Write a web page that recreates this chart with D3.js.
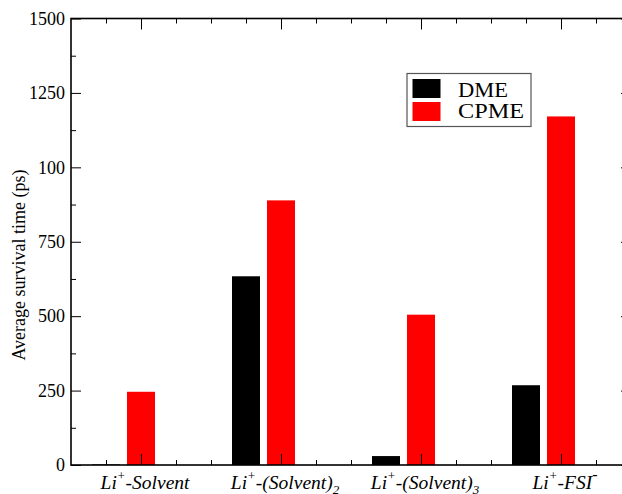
<!DOCTYPE html>
<html>
<head>
<meta charset="utf-8">
<script src="https://cdn.jsdelivr.net/npm/d3@7"></script>
<style>
  body { margin: 0; background: #fff; }
  svg text { font-family: "Liberation Serif", "Times New Roman", "DejaVu Serif", serif !important; fill: #000; }
  .axis path, .axis line { stroke: #000; }
  .axis text { font-size: 18px; }
</style>
</head>
<body>
<svg id="chart"></svg>
<script>
// values
var categories = ["Li+-Solvent", "Li+-(Solvent)2", "Li+-(Solvent)3", "Li+-FSI-"];
var dmeValues = [2, 634, 30, 268];
var cpmeValues = [246, 889, 505, 1171];
var seriesNames = ["DME", "CPME"];
var yTicks = [0, 250, 500, 750, 1000, 1250, 1500];
var yTickLabels = ["0", "250", "500", "750", "100", "1250", "1500"];
// label pieces: [base, sup, rest, sub, sup2]
var catLabels = [
    ["Li", "+", "-Solvent", "", ""],
    ["Li", "+", "-(Solvent)", "2", ""],
    ["Li", "+", "-(Solvent)", "3", ""],
    ["Li", "+", "-FSI", "", "-"]
];

var width = 622, height = 494;
var svg = d3.select("#chart").attr("width", width).attr("height", height);

var x = d3.scaleLinear().domain([0.5, 4.5]).range([71, 631]);
var y = d3.scaleLinear().domain([0, 1500]).range([465, 18.5]);

var colors = { DME: "#000", CPME: "#ff0000" };
var barW = x(0.7) - x(0.5);

var minorX = d3.range(0.75, 4.5, 0.25).filter(function(v) { return Math.abs(v - Math.round(v)) > 0.01; });
var minorY = d3.range(125, 1500, 250);

// bars
var rows = categories.map(function(c, i) {
    return { cat: i + 1, DME: dmeValues[i], CPME: cpmeValues[i] };
});

svg.append("g").selectAll("rect.dme")
    .data(rows)
    .enter().append("rect")
    .attr("x", function(d) { return x(d.cat - 0.25) - barW / 2; })
    .attr("y", function(d) { return y(d.DME); })
    .attr("width", barW)
    .attr("height", function(d) { return y(0) - y(d.DME); })
    .style("fill", colors.DME);

svg.append("g").selectAll("rect.cpme")
    .data(rows)
    .enter().append("rect")
    .attr("x", function(d) { return x(d.cat) - barW / 2; })
    .attr("y", function(d) { return y(d.CPME); })
    .attr("width", barW)
    .attr("height", function(d) { return y(0) - y(d.CPME); })
    .style("fill", colors.CPME);

// axes (ticks point inward on all four sides)
function clean(g) { g.select(".domain").remove(); g.attr("font-family", null); }

svg.append("g").attr("class", "axis")
    .attr("transform", "translate(" + x(0.5) + ",0)")
    .call(d3.axisLeft(y).tickValues(yTicks).tickSize(-10).tickPadding(6)
        .tickFormat(function(d, i) { return yTickLabels[i]; }))
    .call(clean);
svg.append("g").attr("class", "axis")
    .attr("transform", "translate(" + x(0.5) + ",0)")
    .call(d3.axisLeft(y).tickValues(minorY).tickSize(-5).tickFormat(""))
    .call(clean);
svg.append("g").attr("class", "axis")
    .attr("transform", "translate(" + x(4.5) + ",0)")
    .call(d3.axisRight(y).tickValues(yTicks).tickSize(-10).tickFormat(""))
    .call(clean);
svg.append("g").attr("class", "axis")
    .attr("transform", "translate(" + x(4.5) + ",0)")
    .call(d3.axisRight(y).tickValues(minorY).tickSize(-5).tickFormat(""))
    .call(clean);

svg.append("g").attr("class", "axis")
    .attr("transform", "translate(0," + y(0) + ")")
    .call(d3.axisBottom(x).tickValues([1, 2, 3, 4]).tickSize(-11).tickFormat(""))
    .call(clean);
svg.append("g").attr("class", "axis")
    .attr("transform", "translate(0," + y(0) + ")")
    .call(d3.axisBottom(x).tickValues(minorX).tickSize(-5).tickFormat(""))
    .call(clean);
svg.append("g").attr("class", "axis")
    .attr("transform", "translate(0," + y(1500) + ")")
    .call(d3.axisTop(x).tickValues([1, 2, 3, 4]).tickSize(-11).tickFormat(""))
    .call(clean);
svg.append("g").attr("class", "axis")
    .attr("transform", "translate(0," + y(1500) + ")")
    .call(d3.axisTop(x).tickValues(minorX).tickSize(-5).tickFormat(""))
    .call(clean);

// frame
svg.append("rect")
    .attr("x", x(0.5)).attr("y", y(1500))
    .attr("width", x(4.5) - x(0.5)).attr("height", y(0) - y(1500))
    .style("fill", "none").style("stroke", "#000").style("stroke-width", 1.6);

// category labels
var lab = svg.append("g").selectAll("text")
    .data(catLabels)
    .enter().append("text")
    .attr("x", function(d, i) { return x(i + 1) + 4; })
    .attr("y", 488.5)
    .attr("text-anchor", "middle")
    .style("font-style", "italic")
    .style("font-size", "19.5px");

lab.each(function(d) {
    var t = d3.select(this);
    t.append("tspan").text(d[0]);
    t.append("tspan").attr("dy", -9).style("font-size", "13px").text(d[1]);
    t.append("tspan").attr("dy", 9).text(d[2]);
    if (d[3]) t.append("tspan").attr("dy", 5).style("font-size", "13px").text(d[3]);
    if (d[4]) t.append("tspan").attr("dy", -9).style("font-size", "16px").text(d[4]);
});

// y title
svg.append("text")
    .attr("transform", "translate(25,265) rotate(-90)")
    .attr("text-anchor", "middle")
    .style("font-size", "18px")
    .text("Average survival time (ps)");

// legend
var legend = svg.append("g").attr("transform", "translate(407,73.5)");
legend.append("rect")
    .attr("width", 124).attr("height", 53)
    .style("fill", "#fff").style("stroke", "#555").style("stroke-width", 1.2);
seriesNames.forEach(function(s, i) {
    legend.append("rect")
        .attr("x", 5.5).attr("y", 5.5 + i * 23)
        .attr("width", 28).attr("height", 19)
        .style("fill", colors[s]);
    legend.append("text")
        .attr("x", 51).attr("y", 23.5 + i * 21)
        .attr("textLength", i ? 66 : 50)
        .attr("lengthAdjust", "spacingAndGlyphs")
        .style("font-size", "20px")
        .text(s);
});
</script>
</body>
</html>
